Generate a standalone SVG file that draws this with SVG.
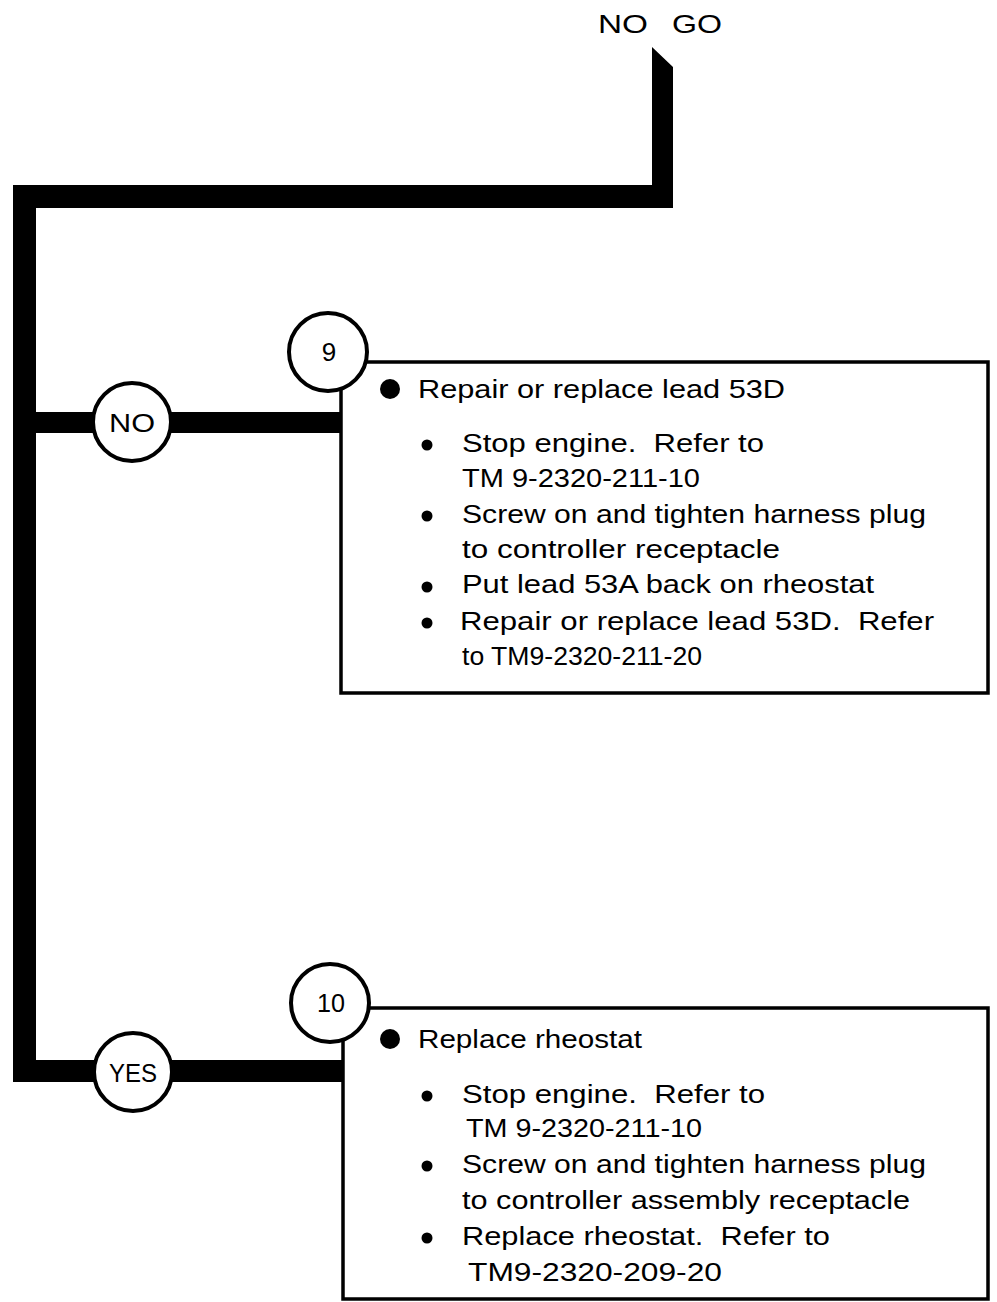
<svg xmlns="http://www.w3.org/2000/svg" width="997" height="1302" viewBox="0 0 997 1302">
<style>
text{font-family:"Liberation Sans",Arial,sans-serif;fill:#000;}
.t{font-size:25px;}
.lbl{font-size:26px;text-anchor:middle;}
.circ{fill:#fff;stroke:#000;stroke-width:4;}
.box{fill:none;stroke:#000;stroke-width:3.5;}
.thick{fill:#000;stroke:none;}
</style>
<rect width="997" height="1302" fill="#fff"/>
<g id="connectors">
<path class="thick" d="M652,47 L673,67 L673,208 L36,208 L36,1060 L343,1060 L343,1082 L13,1082 L13,185 L652,185 Z"/>
<rect class="thick" x="36" y="412" width="306" height="21"/>
</g>
<g id="start">
<text class="t" x="598" y="33" textLength="50" lengthAdjust="spacingAndGlyphs">NO</text>
<text class="t" x="672" y="33" textLength="50" lengthAdjust="spacingAndGlyphs">GO</text>
</g>
<g id="decision-no">
<circle class="circ" cx="132" cy="422" r="39"/>
<text class="lbl" x="132" y="432" textLength="46" lengthAdjust="spacingAndGlyphs">NO</text>
</g>
<g id="decision-yes">
<circle class="circ" cx="133" cy="1072" r="39"/>
<text class="lbl" x="133" y="1082" textLength="48" lengthAdjust="spacingAndGlyphs">YES</text>
</g>
<g id="step9">
<path class="box" d="M366,362 L988,362 L988,693 L341,693 L341,388"/>
<circle class="circ" cx="328" cy="352" r="39"/>
<text class="lbl" x="329" y="361">9</text>
<circle cx="390" cy="389" r="10"/>
<text class="t" x="418" y="398" textLength="367" lengthAdjust="spacingAndGlyphs">Repair or replace lead 53D</text>
<circle cx="427" cy="445" r="5.5"/>
<text class="t" x="462" y="452" textLength="302" lengthAdjust="spacingAndGlyphs" xml:space="preserve">Stop engine.  Refer to</text>
<text class="t" x="462" y="487" textLength="238" lengthAdjust="spacingAndGlyphs">TM 9-2320-211-10</text>
<circle cx="427" cy="516" r="5.5"/>
<text class="t" x="462" y="523" textLength="464" lengthAdjust="spacingAndGlyphs">Screw on and tighten harness plug</text>
<text class="t" x="462" y="558" textLength="318" lengthAdjust="spacingAndGlyphs">to controller receptacle</text>
<circle cx="427" cy="587" r="5.5"/>
<text class="t" x="462" y="593" textLength="412" lengthAdjust="spacingAndGlyphs">Put lead 53A back on rheostat</text>
<circle cx="427" cy="623" r="5.5"/>
<text class="t" x="460" y="630" textLength="474" lengthAdjust="spacingAndGlyphs" xml:space="preserve">Repair or replace lead 53D.  Refer</text>
<text class="t" x="462" y="665" textLength="240" lengthAdjust="spacingAndGlyphs">to TM9-2320-211-20</text>
</g>
<g id="step10">
<path class="box" d="M367,1008 L988,1008 L988,1299 L343,1299 L343,1040"/>
<circle class="circ" cx="330" cy="1003" r="39"/>
<text class="lbl" x="331" y="1012" textLength="28" lengthAdjust="spacingAndGlyphs">10</text>
<circle cx="390" cy="1039" r="10"/>
<text class="t" x="418" y="1048" textLength="224" lengthAdjust="spacingAndGlyphs">Replace rheostat</text>
<circle cx="427" cy="1096" r="5.5"/>
<text class="t" x="462" y="1103" textLength="303" lengthAdjust="spacingAndGlyphs" xml:space="preserve">Stop engine.  Refer to</text>
<text class="t" x="466" y="1137" textLength="236" lengthAdjust="spacingAndGlyphs">TM 9-2320-211-10</text>
<circle cx="427" cy="1166" r="5.5"/>
<text class="t" x="462" y="1173" textLength="464" lengthAdjust="spacingAndGlyphs">Screw on and tighten harness plug</text>
<text class="t" x="462" y="1209" textLength="448" lengthAdjust="spacingAndGlyphs">to controller assembly receptacle</text>
<circle cx="427" cy="1238" r="5.5"/>
<text class="t" x="462" y="1245" textLength="368" lengthAdjust="spacingAndGlyphs" xml:space="preserve">Replace rheostat.  Refer to</text>
<text class="t" x="468" y="1281" textLength="254" lengthAdjust="spacingAndGlyphs">TM9-2320-209-20</text>
</g>
</svg>
